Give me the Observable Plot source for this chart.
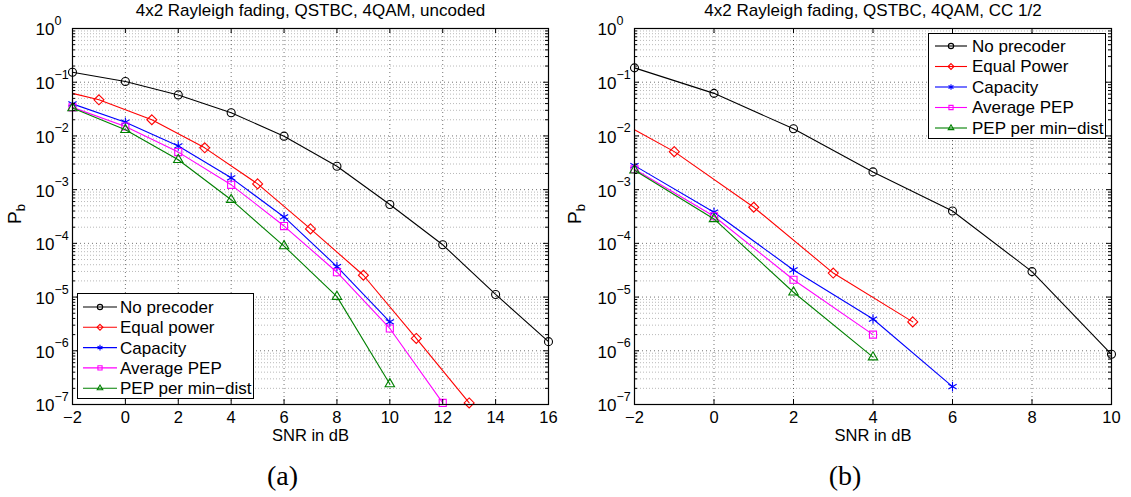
<!DOCTYPE html>
<html>
<head>
<meta charset="utf-8">
<script src="https://cdn.jsdelivr.net/npm/d3@7"></script>
<script src="https://cdn.jsdelivr.net/npm/@observablehq/plot@0.6"></script>
<style>
  html, body { margin: 0; padding: 0; background: #fff; }
  #wrap { position: relative; width: 1131px; height: 497px; overflow: hidden;
          font-family: "Liberation Sans", Arial, Helvetica, sans-serif; }
  .panel { position: absolute; top: 0; }
  .ylab { position: absolute; width: 26px; height: 22px; line-height: 22px; text-align: center;
          font-size: 19px; transform: rotate(-90deg); white-space: nowrap; }
  .ylab sub { font-size: 13px; vertical-align: -4px; }
  .legend { position: absolute; background: #fff; border: 1.2px solid #000; box-sizing: border-box; }
</style>
</head>
<body>
<div id="wrap"></div>
<script>
// ---------------- data ----------------
const titleA = "4x2 Rayleigh fading, QSTBC, 4QAM, uncoded";
const titleB = "4x2 Rayleigh fading, QSTBC, 4QAM, CC 1/2";
const xLabel = "SNR in dB";
const panelTags = ["(a)", "(b)"];

const xTicksA = [-2, 0, 2, 4, 6, 8, 10, 12, 14, 16];
const xTicksB = [-2, 0, 2, 4, 6, 8, 10];
const yDecades = [1, 1e-1, 1e-2, 1e-3, 1e-4, 1e-5, 1e-6, 1e-7];
const yExponents = ["0", "−1", "−2", "−3", "−4", "−5", "−6", "−7"];

const legendA = ["No precoder", "Equal power", "Capacity", "Average PEP", "PEP per min−dist"];
const legendB = ["No precoder", "Equal Power", "Capacity", "Average PEP", "PEP per min−dist"];

// panel (a): uncoded
const aSnrNoPre = [-2, 0, 2, 4, 6, 8, 10, 12, 14, 16];
const aNoPrecoder = [0.153, 0.103, 0.058, 0.027, 0.0099, 0.00272, 5.3e-4, 9.4e-5, 1.12e-5, 1.48e-6];
const aSnrEqual = [-2, -1, 1, 3, 5, 7, 9, 11, 13];
const aEqualPower = [0.062, 0.047, 0.020, 0.0060, 0.00128, 1.86e-4, 2.55e-5, 1.7e-6, 1.07e-7];
const aSnrCap = [-2, 0, 2, 4, 6, 8, 10];
const aCapacity = [0.0395, 0.018, 0.0065, 0.00166, 3.1e-4, 3.7e-5, 3.45e-6];
const aSnrAvg = [-2, 0, 2, 4, 6, 8, 10, 12];
const aAveragePEP = [0.034, 0.015, 0.005, 0.00123, 2.1e-4, 2.9e-5, 2.6e-6, 1.07e-7];
const aSnrMin = [-2, 0, 2, 4, 6, 8, 10];
const aMinDist = [0.033, 0.013, 0.0036, 6.5e-4, 8.9e-5, 1.02e-5, 2.4e-7];

// panel (b): CC 1/2
const bSnrNoPre = [-2, 0, 2, 4, 6, 8, 10];
const bNoPrecoder = [0.185, 0.062, 0.0136, 0.00214, 4.0e-4, 2.98e-5, 8.6e-7];
const bSnrEqual = [-2, -1, 1, 3, 5];
const bEqualPower = [0.013, 0.0051, 4.7e-4, 2.8e-5, 3.45e-6];
const bSnrCap = [-2, 0, 2, 4, 6];
const bCapacity = [0.0028, 3.8e-4, 3.2e-5, 3.9e-6, 2.15e-7];
const bSnrAvg = [-2, 0, 2, 4];
const bAveragePEP = [0.0024, 3.2e-4, 2.1e-5, 2.0e-6];
const bSnrMin = [-2, 0, 2, 4];
const bMinDist = [0.0023, 2.85e-4, 1.23e-5, 7.6e-7];

const colors = ["#000000", "#ff0000", "#0000ff", "#ff00ff", "#008000"];
const symbols = ["circle", "diamond2", "asterisk", "square2", "triangle2"];
const d3Symbols = [d3.symbolCircle, d3.symbolDiamond2, d3.symbolAsterisk, d3.symbolSquare2, d3.symbolTriangle2];

// ---------------- build ----------------
const zip = (xs, ys) => xs.map((x, i) => ({x, y: ys[i]}));
const seriesA = [
  zip(aSnrNoPre, aNoPrecoder), zip(aSnrEqual, aEqualPower), zip(aSnrCap, aCapacity),
  zip(aSnrAvg, aAveragePEP), zip(aSnrMin, aMinDist)
];
const seriesB = [
  zip(bSnrNoPre, bNoPrecoder), zip(bSnrEqual, bEqualPower), zip(bSnrCap, bCapacity),
  zip(bSnrAvg, bAveragePEP), zip(bSnrMin, bMinDist)
];
const yMinor = yDecades.slice(1).flatMap(d => [2, 3, 4, 5, 6, 7, 8, 9].map(k => k * d));
const FONT = '"Liberation Sans", Arial, Helvetica, sans-serif';
const fmt = d3.format("");

function panel({width, ml, mr, xTicks, series, title, tag}) {
  const H = 497, mt = 28, mb = 93;
  const fw = width - ml - mr, fh = H - mt - mb;
  const xDom = [xTicks[0], xTicks[xTicks.length - 1]];
  const marks = [
    Plot.ruleY(yMinor, {y: d => d, stroke: "#000", strokeOpacity: 0.28, strokeDasharray: "1,2"}),
    Plot.ruleY(yDecades, {y: d => d, stroke: "#000", strokeOpacity: 0.55, strokeDasharray: "1,3"}),
    Plot.ruleX(xTicks, {x: d => d, stroke: "#000", strokeOpacity: 0.55, strokeDasharray: "1,3"}),
  ];
  series.forEach((rows, i) => {
    const markerRows = i === 1 ? rows.filter(d => Math.abs(d.x % 2) === 1) : rows;
    marks.push(Plot.line(rows, {x: "x", y: "y", stroke: colors[i], strokeWidth: 1.1}));
    marks.push(Plot.dot(markerRows, {x: "x", y: "y", stroke: colors[i], fill: "none",
      symbol: symbols[i], r: i === 0 ? 4 : 4.5, strokeWidth: 1.1}));
  });
  marks.push(
    // ticks (inward)
    Plot.tickY(yDecades, {y: d => d, stroke: "#000", insetRight: fw - 5}),
    Plot.tickY(yDecades, {y: d => d, stroke: "#000", insetLeft: fw - 5}),
    Plot.tickY(yMinor, {y: d => d, stroke: "#000", insetRight: fw - 3}),
    Plot.tickY(yMinor, {y: d => d, stroke: "#000", insetLeft: fw - 3}),
    Plot.tickX(xTicks, {x: d => d, stroke: "#000", insetTop: fh - 5}),
    Plot.tickX(xTicks, {x: d => d, stroke: "#000", insetBottom: fh - 5}),
    Plot.frame({stroke: "#000", strokeWidth: 1.2}),
    // tick labels
    Plot.text(xTicks, {x: d => d, frameAnchor: "bottom", lineAnchor: "middle", dy: 13.5,
      text: d => fmt(d), fontSize: 16.5, fill: "#000"}),
    Plot.text(yDecades, {x: xDom[0], y: d => d, lineAnchor: "middle", text: () => "10", textAnchor: "end",
      dx: -18, dy: 1.5, fontSize: 17, fill: "#000"}),
    Plot.text(yDecades, {x: xDom[0], y: d => d, lineAnchor: "middle", text: (d, i) => yExponents[i],
      textAnchor: "start", dx: -18, dy: -7.5, fontSize: 12.5, fill: "#000"}),
    // axis label, title, panel tag
    Plot.text([xLabel], {frameAnchor: "bottom", lineAnchor: "middle", dy: 31.5, text: d => d, fontSize: 16.5, fill: "#000"}),
    Plot.text([title], {frameAnchor: "top", lineAnchor: "middle", dy: -17.5, text: d => d, fontSize: 17, fill: "#000"}),
    Plot.text([tag], {frameAnchor: "bottom", lineAnchor: "middle", dx: -28, dy: 72, text: d => d, fontSize: 28,
      fontFamily: '"Liberation Serif", "DejaVu Serif", serif', fill: "#000"})
  );
  return Plot.plot({
    width, height: H, marginLeft: ml, marginRight: mr, marginTop: mt, marginBottom: mb,
    x: {domain: xDom, axis: null},
    y: {type: "log", domain: [1e-7, 1], axis: null},
    style: {fontFamily: FONT, background: "white", overflow: "visible"},
    marks
  });
}

function legend(labels, {left, top, w, h, x0, x1, xm, xt, y0, dy}) {
  const div = document.createElement("div");
  div.className = "legend";
  Object.assign(div.style, {left: left + "px", top: top + "px", width: w + "px", height: h + "px"});
  const svg = d3.select(div).append("svg").attr("width", w).attr("height", h)
    .style("position", "absolute").style("left", "-1px").style("top", "-1px");
  labels.forEach((lab, i) => {
    const y = y0 + i * dy;
    svg.append("line").attr("x1", x0).attr("x2", x1).attr("y1", y).attr("y2", y)
      .attr("stroke", colors[i]).attr("stroke-width", 1.1);
    svg.append("path").attr("d", d3.symbol(d3Symbols[i], 22)())
      .attr("transform", `translate(${xm},${y})`).attr("fill", "none")
      .attr("stroke", colors[i]).attr("stroke-width", 1.1);
    svg.append("text").attr("x", xt).attr("y", y).attr("dy", "0.35em")
      .attr("font-size", 17).attr("font-family", FONT).attr("fill", "#000").text(lab);
  });
  return div;
}

const wrap = document.getElementById("wrap");
const pa = panel({width: 565, ml: 72, mr: 17, xTicks: xTicksA, series: seriesA, title: titleA, tag: panelTags[0]});
pa.classList.add("panel"); pa.style.left = "0px";
const pb = panel({width: 566, ml: 69, mr: 20, xTicks: xTicksB, series: seriesB, title: titleB, tag: panelTags[1]});
pb.classList.add("panel"); pb.style.left = "565px";
wrap.appendChild(pa);
wrap.appendChild(pb);

for (const cx of [15, 575]) {
  const yl = document.createElement("div");
  yl.className = "ylab";
  yl.innerHTML = "P<sub>b</sub>";
  yl.style.left = (cx - 13) + "px";
  yl.style.top = (214 - 11) + "px";
  wrap.appendChild(yl);
}

wrap.appendChild(legend(legendA, {left: 77, top: 293, w: 177, h: 106, x0: 6, x1: 40, xm: 23, xt: 43, y0: 14, dy: 20.3}));
wrap.appendChild(legend(legendB, {left: 928, top: 33, w: 178, h: 106, x0: 7, x1: 39, xm: 23, xt: 44, y0: 13, dy: 20.5}));
</script>
</body>
</html>
